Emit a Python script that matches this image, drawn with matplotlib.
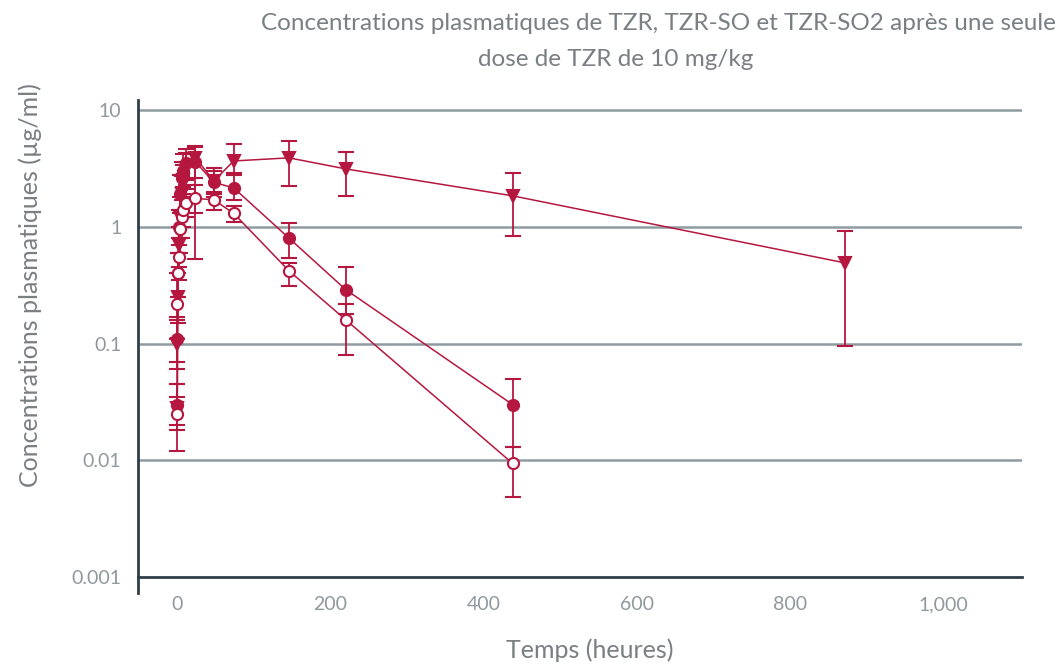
import matplotlib
matplotlib.use("Agg")
import matplotlib.pyplot as plt
from matplotlib.ticker import FixedLocator, NullLocator
import numpy as np

# ---- data ----
t_tzr = [0.25, 0.5, 1, 2, 4, 6, 8, 12, 24, 48, 74, 146, 220, 438]
c_tzr = [0.025, 0.22, 0.40, 0.55, 0.95, 1.2, 1.4, 1.6, 1.75, 1.7, 1.3, 0.42, 0.16, 0.0094]
lo_tzr = [0.018, 0.11, 0.25, 0.35, 0.6, 0.8, 1.0, 1.2, 1.3, 1.4, 1.1, 0.31, 0.079, 0.0048]
hi_tzr = [0.035, 0.40, 0.60, 0.80, 1.4, 1.7, 1.9, 2.1, 2.3, 2.0, 1.5, 0.49, 0.22, 0.013]

t_so = [0.25, 0.5, 1, 2, 4, 6, 8, 12, 24, 48, 74, 146, 220, 438]
c_so = [0.03, 0.11, 0.40, 1.0, 1.9, 2.6, 3.0, 3.5, 3.6, 2.4, 2.15, 0.80, 0.29, 0.030]
lo_so = [0.02, 0.07, 0.25, 0.7, 1.3, 1.8, 2.2, 2.5, 2.6, 1.9, 1.7, 0.54, 0.18, 0.013]
hi_so = [0.045, 0.17, 0.60, 1.4, 2.8, 3.6, 4.2, 4.6, 4.8, 3.0, 2.8, 1.08, 0.455, 0.050]

t_so2 = [0.25, 0.5, 1, 2, 4, 6, 8, 12, 24, 48, 74, 146, 220, 438, 872]
c_so2 = [0.028, 0.10, 0.25, 0.70, 1.2, 1.9, 2.5, 3.2, 3.9, 2.47, 3.66, 3.89, 3.13, 1.84, 0.49]
lo_so2 = [0.012, 0.06, 0.15, 0.45, 0.8, 1.3, 1.8, 2.3, 0.53, 1.8, 2.9, 2.24, 1.84, 0.84, 0.096]
hi_so2 = [0.045, 0.16, 0.40, 1.0, 1.8, 2.7, 3.4, 4.3, 4.9, 3.2, 5.1, 5.4, 4.37, 2.9, 0.92]

x_ticks = [0, 200, 400, 600, 800, 1000]
x_ticklabels = ["0", "200", "400", "600", "800", "1,000"]
y_ticks = [0.001, 0.01, 0.1, 1, 10]
y_ticklabels = ["0.001", "0.01", "0.1", "1", "10"]

title_line1 = "Concentrations plasmatiques de TZR, TZR-SO et TZR-SO2 après une seule"
title_line2 = "dose de TZR de 10 mg/kg"
xlabel = "Temps (heures)"
ylabel = "Concentrations plasmatiques (µg/ml)"

# ---- style ----
RED = "#b5173f"
GRID = "#8e9ba1"
SPINE = "#2f3e46"
TXT = "#8f989d"
LABEL = "#7a7f82"

plt.rcParams['font.family'] = ['Lato', 'DejaVu Sans']

fig = plt.figure(figsize=(10.58, 6.64), dpi=100)
ax = fig.add_axes([138/1058, 1 - 593/664, (1022 - 138)/1058, (593 - 100)/664])

ax.set_yscale('log')
ax.set_xlim(-51, 1103)
ax.set_ylim(10 ** (-3 - 16/117), 10 ** (1 + 10/117))

for y in [0.01, 0.1, 1, 10]:
    ax.axhline(y, color=GRID, lw=1.8, zorder=0)

def series(t, c, lo, hi, marker, face):
    c = np.array(c); lo = np.array(lo); hi = np.array(hi)
    yerr = np.vstack([c - lo, hi - c])
    ax.errorbar(t, c, yerr=yerr, fmt='-', color=RED, lw=1.1, marker=marker,
                markersize=8, markerfacecolor=face, markeredgecolor=RED,
                markeredgewidth=1.5, ecolor=RED, elinewidth=1.3, capsize=6,
                capthick=1.3, zorder=3)

series(t_so2, c_so2, lo_so2, hi_so2, 'v', RED)
series(t_so, c_so, lo_so, hi_so, 'o', RED)
series(t_tzr, c_tzr, lo_tzr, hi_tzr, 'o', 'white')

ax.spines['top'].set_visible(False)
ax.spines['right'].set_visible(False)
ax.spines['bottom'].set_position(('data', 0.001))
ax.spines['bottom'].set_color(SPINE)
ax.spines['bottom'].set_linewidth(2.0)
ax.spines['left'].set_color(SPINE)
ax.spines['left'].set_linewidth(2.0)

ax.xaxis.set_major_locator(FixedLocator(x_ticks))
ax.set_xticklabels(x_ticklabels)
ax.yaxis.set_major_locator(FixedLocator(y_ticks))
ax.yaxis.set_minor_locator(NullLocator())
ax.set_yticklabels(y_ticklabels)
ax.tick_params(axis='both', length=0, labelsize=14, labelcolor=TXT)
ax.tick_params(axis='x', pad=14)
ax.tick_params(axis='y', pad=12)

fig.text(30/1058, 1 - 285/664, ylabel, rotation=90, ha='center', va='center',
         fontsize=18, color=LABEL)
fig.text(590/1058, 1 - 650/664, xlabel, ha='center', va='center',
         fontsize=18, color=LABEL)
fig.text(658/1058, 1 - 24/664, title_line1, ha='center', va='center',
         fontsize=17.5, color=LABEL)
fig.text(616/1058, 1 - 60/664, title_line2, ha='center', va='center',
         fontsize=17.5, color=LABEL)

fig.savefig("out.png", dpi=100)
